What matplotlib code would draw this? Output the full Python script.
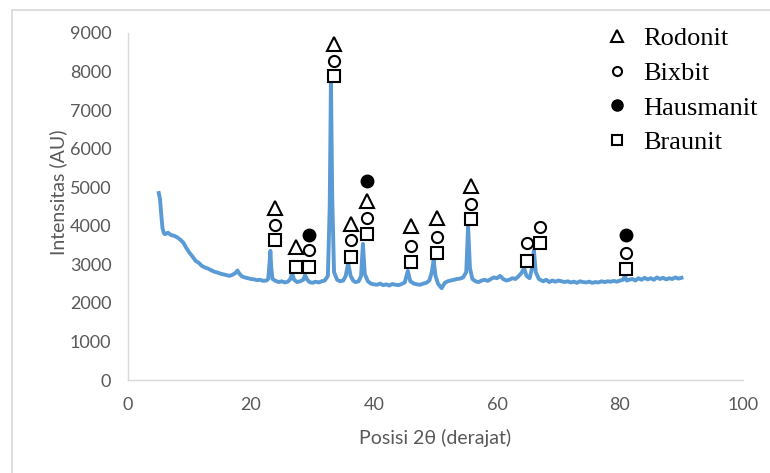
import numpy as np
import matplotlib
matplotlib.use('Agg')
import matplotlib.pyplot as plt
from matplotlib.lines import Line2D

# XRD pattern (2theta, intensity)
two_theta = [
    5.0, 5.2, 5.4, 5.6, 5.8, 6.0, 6.5, 7.0, 7.5, 8.0, 8.5, 9.0, 9.5, 10.0,
    10.5, 11.0, 11.5, 12.0, 12.5, 13.0, 13.5, 14.0, 14.5, 15.0, 15.5, 16.0,
    16.5, 17.0, 17.5, 17.8, 18.1, 18.5, 19.0, 19.5, 20.0, 20.5, 21.0, 21.5,
    22.0, 22.5, 22.8, 23.0, 23.15, 23.3, 23.5, 24.0, 24.5, 25.0, 25.5, 26.0,
    26.4, 26.7, 27.0, 27.5, 28.0, 28.5, 28.8, 29.1, 29.5, 30.0, 30.5, 31.0,
    31.5, 32.0, 32.5, 32.8, 33.0, 33.2, 33.5, 34.0, 34.5, 35.0, 35.4, 35.8,
    36.2, 36.6, 37.0, 37.5, 37.9, 38.2, 38.5, 39.0, 39.5, 40.0, 40.5, 41.0,
    41.5, 42.0, 42.5, 43.0, 43.5, 44.0, 44.5, 45.0, 45.5, 45.9, 46.5, 47.0,
    47.5, 48.0, 48.5, 49.0, 49.4, 49.7, 50.0, 50.4, 51.0, 51.5, 52.0, 52.5,
    53.0, 53.5, 54.0, 54.5, 55.0, 55.3, 55.6, 56.0, 56.5, 57.0, 57.5, 58.0,
    58.5, 59.0, 59.5, 60.0, 60.5, 61.0, 61.5, 62.0, 62.5, 63.0, 63.5, 64.0,
    64.4, 64.8, 65.3, 65.7, 66.0, 66.3, 66.8, 67.5, 68.0, 68.5, 69.0, 69.5,
    70.0, 70.5, 71.0, 71.5, 72.0, 72.5, 73.0, 73.5, 74.0, 74.5, 75.0, 75.5,
    76.0, 76.5, 77.0, 77.5, 78.0, 78.5, 79.0, 79.5, 80.0, 80.5, 80.8, 81.1,
    81.5, 82.0, 82.5, 83.0, 83.5, 84.0, 84.5, 85.0, 85.5, 86.0, 86.5, 87.0,
    87.5, 88.0, 88.5, 89.0, 89.5, 90.0,
]
intensity = [
    4850, 4700, 4300, 3950, 3820, 3780, 3820, 3760, 3740, 3700, 3640, 3560, 3420, 3300,
    3200, 3090, 3040, 2960, 2920, 2890, 2850, 2810, 2790, 2760, 2740, 2720,
    2700, 2730, 2780, 2840, 2760, 2690, 2660, 2640, 2620, 2610, 2590, 2600,
    2570, 2580, 2620, 3000, 3350, 2900, 2620, 2570, 2540, 2560, 2530, 2550,
    2620, 2760, 2600, 2540, 2560, 2600, 2720, 2610, 2540, 2520, 2550, 2530,
    2560, 2580, 2700, 4500, 7800, 4800, 2800, 2600, 2560, 2580, 2700, 3030,
    2700, 2580, 2540, 2560, 2700, 3530, 2750, 2560, 2500, 2480, 2470, 2500,
    2460, 2480, 2450, 2490, 2470, 2460, 2490, 2530, 2830, 2560, 2500, 2480,
    2470, 2500, 2520, 2580, 2800, 3110, 2700, 2500, 2380, 2520, 2560, 2580,
    2600, 2620, 2630, 2660, 2800, 3990, 2900, 2620, 2560, 2540, 2580, 2600,
    2570, 2620, 2660, 2640, 2700, 2620, 2580, 2600, 2640, 2620, 2690, 2780,
    2900, 2700, 2640, 2900, 3370, 2800, 2620, 2560, 2600, 2540, 2580, 2550,
    2580, 2560, 2540, 2560, 2530, 2550, 2520, 2560, 2540, 2530, 2550, 2520,
    2540, 2530, 2560, 2540, 2560, 2550, 2570, 2550, 2580, 2600, 2700, 2580,
    2600, 2620, 2580, 2640, 2600, 2650, 2610, 2640, 2600, 2660, 2620, 2650,
    2610, 2640, 2620, 2660, 2630, 2650,
]

# phase markers above the peaks
rod_x = [23.9, 27.3, 33.5, 36.3, 38.9, 46.0, 50.2, 55.8]
rod_y = [4460, 3450, 8710, 4050, 4640, 3990, 4200, 5030]
bix_x = [23.9, 29.4, 33.5, 36.3, 38.9, 46.0, 50.2, 55.8, 64.9, 67.0, 81.0]
bix_y = [4020, 3370, 8270, 3630, 4200, 3480, 3710, 4560, 3550, 3970, 3290]
haus_x = [29.4, 38.9, 81.0]
haus_y = [3760, 5160, 3760]
bra_x = [23.9, 27.3, 29.4, 33.5, 36.3, 38.9, 46.0, 50.2, 55.8, 64.9, 67.0, 81.0]
bra_y = [3630, 2930, 2930, 7880, 3190, 3790, 3060, 3290, 4180, 3090, 3550, 2880]

phase_names = ['Rodonit', 'Bixbit', 'Hausmanit', 'Braunit']

x_ticks = [0, 20, 40, 60, 80, 100]
y_ticks = [0, 1000, 2000, 3000, 4000, 5000, 6000, 7000, 8000, 9000]

grey = '#595959'
line_grey = '#D9D9D9'

fig = plt.figure(figsize=(7.7, 4.73), dpi=100)
ax = fig.add_axes([128/770, 1 - 380/473, (743 - 128)/770, (380 - 33)/473])

ax.plot(two_theta, intensity, color='#5B9BD5', linewidth=2.8, solid_joinstyle='round')

mk = dict(linestyle='none', color='black', markerfacecolor='white', markeredgewidth=1.5)
ax.plot(rod_x, rod_y, marker='^', markersize=10, **mk)
ax.plot(bix_x, bix_y, marker='o', markersize=8, **mk)
ax.plot(haus_x, haus_y, marker='o', markersize=9, linestyle='none', color='black')
ax.plot(bra_x, bra_y, marker='s', markersize=8.5, **mk)

ax.set_xlim(0, 100)
ax.set_ylim(0, 9000)
ax.set_xticks(x_ticks)
ax.set_yticks(y_ticks)
for s in ['top', 'right']:
    ax.spines[s].set_visible(False)
for s in ['left', 'bottom']:
    ax.spines[s].set_color(line_grey)
    ax.spines[s].set_linewidth(1.0)
ax.tick_params(axis='both', length=0, labelsize=13, labelcolor=grey)
ax.tick_params(axis='x', pad=12)
ax.tick_params(axis='y', pad=12)
for lab in ax.get_xticklabels() + ax.get_yticklabels():
    lab.set_family('Lato')

ax.set_xlabel('Posisi 2θ (derajat)', fontsize=14, color=grey, family='Lato', labelpad=12)
ax.set_ylabel('Intensitas (AU)', fontsize=14, color=grey, family='Lato', labelpad=2)
ax.yaxis.label.set_y((380 - 192) / 347)

handles = [
    Line2D([], [], linestyle='none', marker='^', markersize=9, color='black',
           markerfacecolor='white', markeredgewidth=1.5),
    Line2D([], [], linestyle='none', marker='o', markersize=6.5, color='black',
           markerfacecolor='white', markeredgewidth=1.5),
    Line2D([], [], linestyle='none', marker='o', markersize=8, color='black'),
    Line2D([], [], linestyle='none', marker='s', markersize=6.5, color='black',
           markerfacecolor='white', markeredgewidth=1.5),
]
fig.legend(handles, phase_names, loc='upper left', bbox_to_anchor=(604/770, 1 - 27/473),
           frameon=False, prop={'family': 'Liberation Serif', 'size': 19},
           handlelength=1.0, handletextpad=0.5, labelspacing=0.42,
           borderpad=0, borderaxespad=0)

# outer chart border (cropped on right and bottom)
fig.add_artist(Line2D([12/770, 12/770], [0, 1 - 10/473], color=line_grey, linewidth=1.2,
                      transform=fig.transFigure))
fig.add_artist(Line2D([12/770, 1], [1 - 10/473, 1 - 10/473], color=line_grey, linewidth=1.2,
                      transform=fig.transFigure))

fig.savefig('out.png', dpi=100)
